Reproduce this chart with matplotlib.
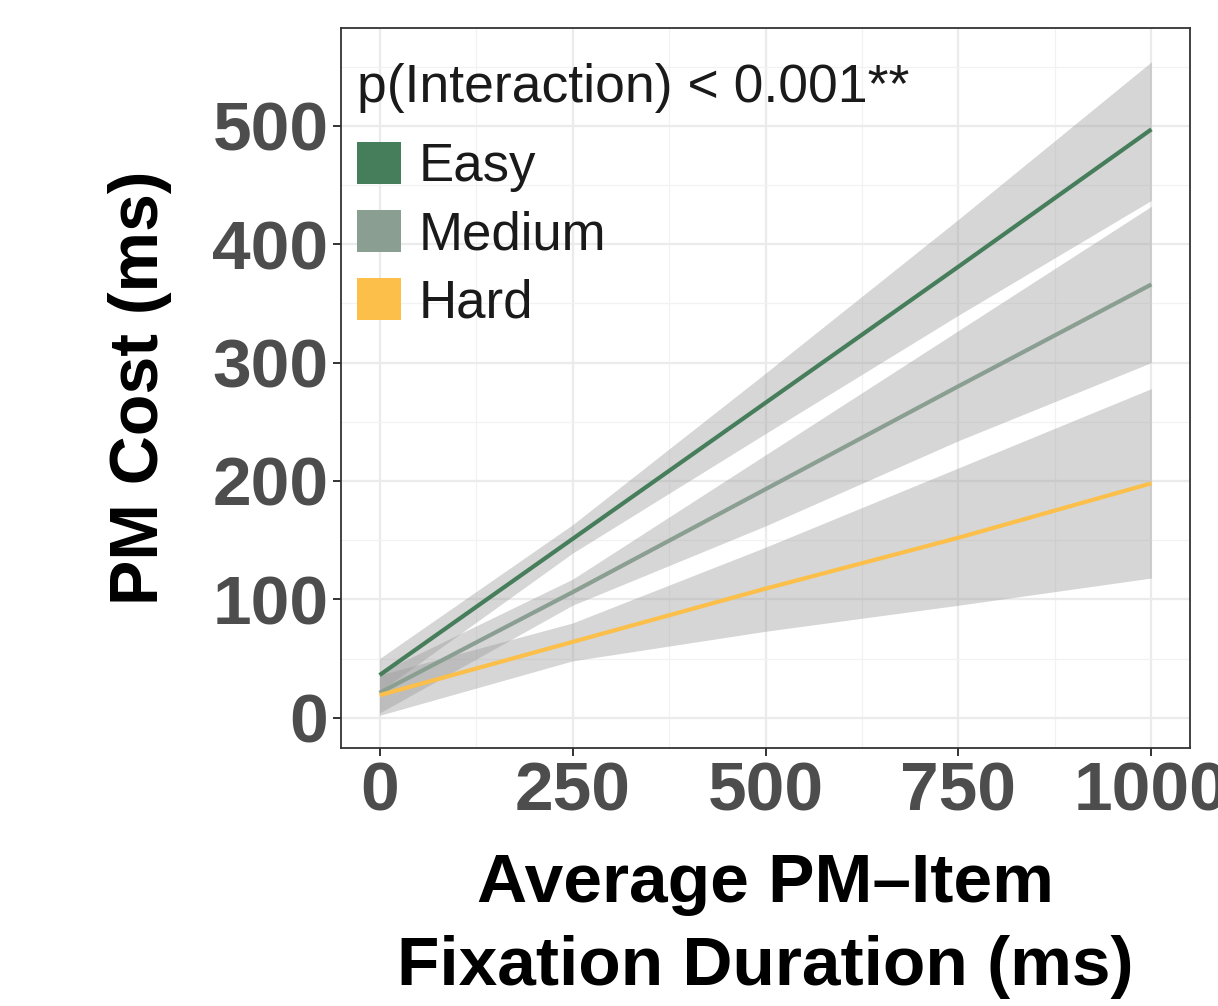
import matplotlib
matplotlib.use("Agg")
import matplotlib.pyplot as plt
from matplotlib.patches import Patch

plt.rcParams['font.family'] = ['Liberation Sans', 'DejaVu Sans']

# values
x_pts = [0, 250, 500, 750, 1000]

easy_fit = [36, 151, 266, 381, 497]
easy_lo = [22, 139, 240, 340, 437]
easy_hi = [50, 163, 291, 421, 554]

medium_fit = [21, 106, 193, 280, 366]
medium_lo = [4, 95, 162, 234, 300]
medium_hi = [38, 117, 222, 327, 432]

hard_fit = [19, 64, 109, 152, 198]
hard_lo = [2, 48, 73, 95, 118]
hard_hi = [36, 80, 144, 211, 278]

labels = ['Easy', 'Medium', 'Hard']
colors = ['#467d5a', '#8a9f91', '#fcbf49']

x_ticks = [0, 250, 500, 750, 1000]
y_ticks = [0, 100, 200, 300, 400, 500]

W, H = 1218, 1006
fig = plt.figure(figsize=(W / 100, H / 100), dpi=100)
ax = fig.add_axes([341 / W, 1 - 748 / H, (1190 - 341) / W, (748 - 28) / H])

# ggplot-like grid
ax.set_axisbelow(True)
ax.set_xticks([125, 375, 625, 875], minor=True)
ax.set_yticks([50, 150, 250, 350, 450, 550], minor=True)
ax.grid(which='major', color='#ebebeb', linewidth=1.6)
ax.grid(which='minor', color='#f2f2f2', linewidth=0.9)
ax.tick_params(which='minor', length=0)

groups = [
    (easy_fit, easy_lo, easy_hi),
    (medium_fit, medium_lo, medium_hi),
    (hard_fit, hard_lo, hard_hi),
]
for (fit, lo, hi), lab, col in zip(groups, labels, colors):
    ax.fill_between(x_pts, lo, hi, color='#999999', alpha=0.4, linewidth=0, zorder=2)
    ax.plot(x_pts, fit, color=col, linewidth=3.0, solid_capstyle='butt', zorder=3)

ax.set_xlim(-50, 1050)
ax.set_ylim(-25.6, 582.6)
ax.set_xticks(x_ticks)
ax.set_yticks(y_ticks)
ax.set_xticklabels([str(v) for v in x_ticks])
ax.set_yticklabels([str(v) for v in y_ticks])
ax.tick_params(which='major', length=6, width=1.4, color='#333333',
               labelsize=50, labelcolor='#4d4d4d', pad=3)
for t in ax.get_xticklabels() + ax.get_yticklabels():
    t.set_fontweight('bold')

for s in ax.spines.values():
    s.set_color('#333333')
    s.set_linewidth(1.3)

ax.set_xlabel('Average PM\u2013Item\nFixation Duration (ms)', fontsize=50,
              fontweight='bold', color='black', labelpad=20, linespacing=1.38)
ax.set_ylabel('PM Cost (ms)', fontsize=49, fontweight='bold', color='black', labelpad=29)

# legend title as separate text, keys below it
fig.text(357 / W, 1 - 102 / H, 'p(Interaction) < 0.001**', fontsize=38.5,
         color='#1a1a1a', ha='left', va='baseline')

handles = [Patch(facecolor=c, edgecolor='none') for c in colors]
leg = fig.legend(handles, labels, loc='upper left',
                 bbox_to_anchor=(357 / W, 1 - 142 / H), bbox_transform=fig.transFigure,
                 frameon=False, fontsize=38,
                 handlelength=0.84, handleheight=0.84, handletextpad=0.33,
                 labelspacing=0.34, borderaxespad=0, borderpad=0)
for t in leg.get_texts():
    t.set_color('#1a1a1a')

fig.savefig('out.png', dpi=100)
